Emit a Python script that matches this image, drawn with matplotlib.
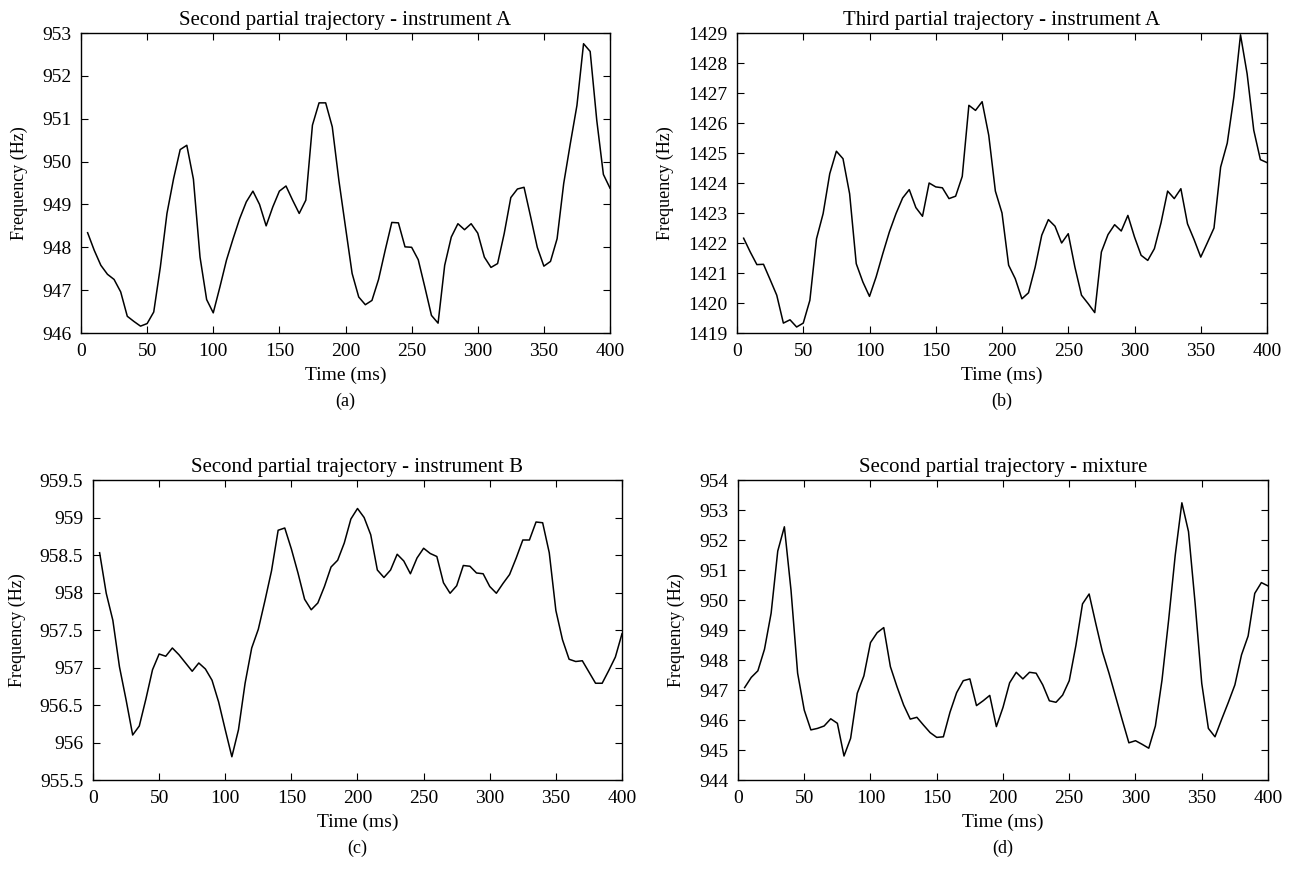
import numpy as np
import matplotlib
matplotlib.use("Agg")
import matplotlib.pyplot as plt

plt.rcParams['font.family'] = ['Liberation Serif', 'DejaVu Serif']
plt.rcParams['font.size'] = 14

# time axis: one frame every 5 ms
t = np.arange(5, 405, 5)

# (a) second partial, instrument A
freq_a = [948.34, 947.93, 947.58, 947.37, 947.25, 946.96, 946.39, 946.27, 946.16, 946.22,
          946.49, 947.54, 948.79, 949.60, 950.28, 950.38, 949.59, 947.77, 946.78, 946.47,
          947.07, 947.70, 948.20, 948.67, 949.06, 949.31, 949.00, 948.50, 948.94, 949.31,
          949.43, 949.10, 948.79, 949.10, 950.85, 951.37, 951.37, 950.81, 949.56, 948.47,
          947.39, 946.84, 946.66, 946.76, 947.25, 947.93, 948.58, 948.57, 948.01, 948.00,
          947.71, 947.07, 946.41, 946.23, 947.58, 948.24, 948.55, 948.41, 948.55, 948.33,
          947.77, 947.53, 947.62, 948.32, 949.16, 949.36, 949.40, 948.71, 948.00, 947.56,
          947.67, 948.20, 949.49, 950.42, 951.31, 952.75, 952.57, 950.96, 949.70, 949.38]

# (b) third partial, instrument A
freq_b = [1422.16, 1421.70, 1421.28, 1421.29, 1420.78, 1420.26, 1419.33, 1419.44, 1419.20, 1419.33,
          1420.09, 1422.14, 1422.98, 1424.31, 1425.06, 1424.81, 1423.64, 1421.31, 1420.70, 1420.22,
          1420.87, 1421.64, 1422.37, 1422.98, 1423.50, 1423.78, 1423.18, 1422.89, 1424.00, 1423.87,
          1423.84, 1423.48, 1423.56, 1424.22, 1426.59, 1426.42, 1426.71, 1425.59, 1423.73, 1423.00,
          1421.26, 1420.81, 1420.14, 1420.34, 1421.19, 1422.26, 1422.78, 1422.56, 1422.00, 1422.31,
          1421.20, 1420.26, 1419.98, 1419.68, 1421.70, 1422.28, 1422.61, 1422.40, 1422.92, 1422.20,
          1421.59, 1421.42, 1421.81, 1422.67, 1423.73, 1423.48, 1423.81, 1422.64, 1422.11, 1421.53,
          1422.01, 1422.50, 1424.53, 1425.33, 1426.87, 1428.94, 1427.64, 1425.76, 1424.78, 1424.68]

# (c) second partial, instrument B
freq_c = [958.53, 957.99, 957.63, 957.01, 956.57, 956.10, 956.22, 956.58, 956.97, 957.18,
          957.15, 957.26, 957.17, 957.06, 956.95, 957.06, 956.98, 956.83, 956.54, 956.17,
          955.81, 956.17, 956.79, 957.26, 957.51, 957.89, 958.29, 958.83, 958.86, 958.58,
          958.26, 957.91, 957.77, 957.86, 958.08, 958.34, 958.43, 958.66, 958.98, 959.12,
          959.00, 958.77, 958.30, 958.20, 958.30, 958.51, 958.42, 958.25, 958.46, 958.59,
          958.52, 958.48, 958.13, 957.99, 958.09, 958.36, 958.35, 958.26, 958.25, 958.08,
          957.99, 958.12, 958.24, 958.46, 958.70, 958.70, 958.94, 958.93, 958.53, 957.76,
          957.37, 957.11, 957.08, 957.09, 956.94, 956.79, 956.79, 956.96, 957.14, 957.45]

# (d) second partial, mixture
freq_d = [947.08, 947.42, 947.64, 948.36, 949.56, 951.63, 952.44, 950.33, 947.56, 946.33,
          945.67, 945.72, 945.80, 946.04, 945.89, 944.80, 945.39, 946.89, 947.47, 948.58,
          948.91, 949.08, 947.78, 947.11, 946.50, 946.03, 946.09, 945.83, 945.58, 945.42,
          945.44, 946.26, 946.91, 947.31, 947.37, 946.48, 946.64, 946.82, 945.78, 946.42,
          947.24, 947.59, 947.37, 947.59, 947.56, 947.17, 946.64, 946.59, 946.83, 947.31,
          948.48, 949.87, 950.20, 949.22, 948.28, 947.56, 946.78, 946.00, 945.24, 945.31,
          945.19, 945.06, 945.80, 947.33, 949.33, 951.50, 953.24, 952.28, 949.89, 947.22,
          945.72, 945.44, 946.02, 946.58, 947.17, 948.17, 948.80, 950.22, 950.58, 950.47]

titles = ["Second partial trajectory - instrument A",
          "Third partial trajectory - instrument A",
          "Second partial trajectory - instrument B",
          "Second partial trajectory - mixture"]
letters = ["(a)", "(b)", "(c)", "(d)"]
ylims = [(946, 953), (1419, 1429), (955.5, 959.5), (944, 954)]
ysteps = [1, 1, 0.5, 1]
series = [freq_a, freq_b, freq_c, freq_d]

W, H = 1298, 888
# axes boxes in pixels: left, top, right, bottom
boxes = [(81, 33, 610, 333), (737, 33, 1267, 333),
         (93, 480, 622, 780), (738, 480, 1268, 780)]

fig = plt.figure(figsize=(W / 100, H / 100), dpi=100)

for i in range(4):
    l, tp, r, b = boxes[i]
    ax = fig.add_axes([l / W, 1 - b / H, (r - l) / W, (b - tp) / H])
    ax.plot(t, series[i], color='black', lw=1.1)
    ax.set_xlim(0, 400)
    ax.set_ylim(*ylims[i])
    ax.set_xticks(np.arange(0, 401, 50))
    yt = np.arange(ylims[i][0], ylims[i][1] + 1e-9, ysteps[i])
    ax.set_yticks(yt)
    ax.set_yticklabels(['%g' % v for v in yt])
    ax.tick_params(direction='in', top=True, right=True, length=5, labelsize=14)
    ax.tick_params(axis='x', pad=7)
    ax.tick_params(axis='y', pad=7)
    for s in ax.spines.values():
        s.set_linewidth(1.0)
    ax.set_title(titles[i], fontsize=15, pad=6)
    ax.set_xlabel("Time (ms)", fontsize=14, labelpad=5)
    ax.set_ylabel("Frequency (Hz)", fontsize=13, labelpad=10)
    # panel letter, below the x label
    fig.text((l + r) / 2 / W, 1 - (b + 68) / H, letters[i], ha='center', va='center', fontsize=13)

fig.savefig("out.png", dpi=100)
